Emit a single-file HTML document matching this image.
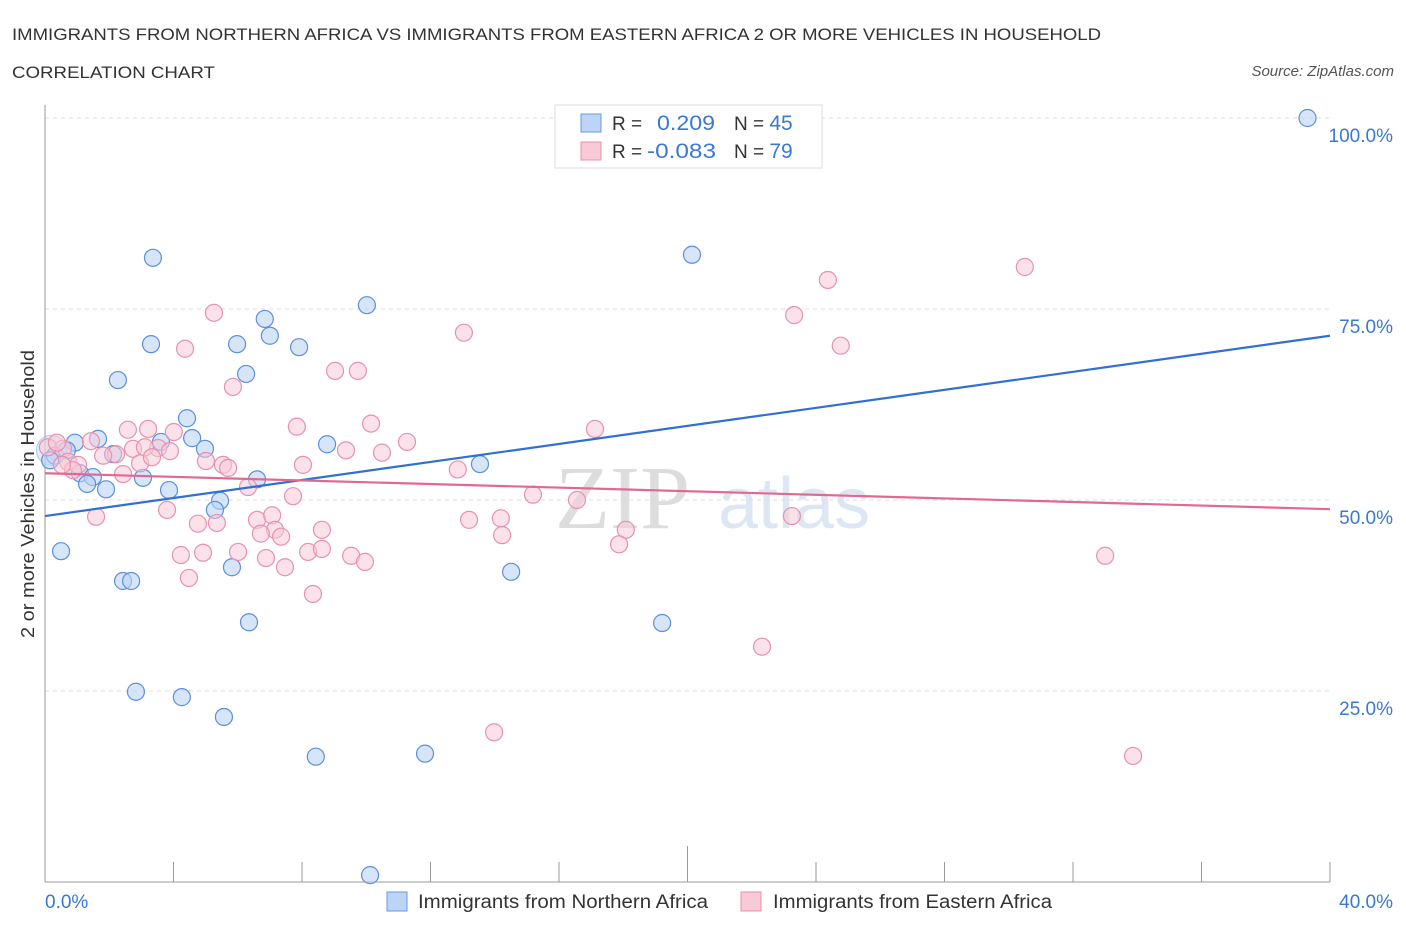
<!DOCTYPE html>
<html><head><meta charset="utf-8"><style>
body{margin:0;background:#fff;font-family:"Liberation Sans",sans-serif}
</style></head><body>
<svg id="c" width="1406" height="930" xmlns="http://www.w3.org/2000/svg">
<text x="12" y="40" font-size="17" fill="#333" textLength="1089" lengthAdjust="spacingAndGlyphs">IMMIGRANTS FROM NORTHERN AFRICA VS IMMIGRANTS FROM EASTERN AFRICA 2 OR MORE VEHICLES IN HOUSEHOLD</text>
<text x="12" y="78" font-size="17" fill="#333" textLength="203" lengthAdjust="spacingAndGlyphs">CORRELATION CHART</text>
<text x="1394" y="76" font-size="15" fill="#555" font-style="italic" text-anchor="end">Source: ZipAtlas.com</text>
<text x="555" y="528" font-size="90" fill="#ddd" font-family="Liberation Serif">ZIP</text>
<text x="718" y="528" font-size="72" fill="#dde6f3">atlas</text>
<g id="grid"></g><g id="pts"></g><g id="lines"></g>
<text transform="translate(34,494) rotate(-90)" font-size="18" fill="#333" text-anchor="middle" textLength="288" lengthAdjust="spacingAndGlyphs">2 or more Vehicles in Household</text>
<text x="45" y="908" font-size="19" fill="#3a78d4">0.0%</text>
<text x="1393" y="908" font-size="19" fill="#3a78d4" text-anchor="end">40.0%</text>
<g>
<rect x="555" y="105" width="267" height="63" fill="#fff" stroke="#ddd"/>
<rect x="581" y="114" width="20" height="18" fill="#bcd4f5" stroke="#6a9ae0"/>
<rect x="581" y="142" width="20" height="18" fill="#f8c9d7" stroke="#e891ae"/>
<text x="612" y="130" font-size="19" fill="#333">R =</text>
<text x="657" y="130" font-size="21" fill="#3a78d4" textLength="58" lengthAdjust="spacingAndGlyphs">0.209</text>
<text x="734" y="130" font-size="19" fill="#333">N = <tspan fill="#3a78d4" font-size="21">45</tspan></text>
<text x="612" y="158" font-size="19" fill="#333">R =</text>
<text x="647" y="158" font-size="21" fill="#3a78d4" textLength="69" lengthAdjust="spacingAndGlyphs">-0.083</text>
<text x="734" y="158" font-size="19" fill="#333">N = <tspan fill="#3a78d4" font-size="21">79</tspan></text>
</g>
<g>
<rect x="387" y="892" width="20" height="19" fill="#bcd4f5" stroke="#6a9ae0"/>
<text x="418" y="908" font-size="19" fill="#333" textLength="290" lengthAdjust="spacingAndGlyphs">Immigrants from Northern Africa</text>
<rect x="741" y="892" width="20" height="19" fill="#f8c9d7" stroke="#e891ae"/>
<text x="773" y="908" font-size="19" fill="#333" textLength="279" lengthAdjust="spacingAndGlyphs">Immigrants from Eastern Africa</text>
</g>
</svg>
<script>
const yTicks=[25,50,75,100];
const yTickLabels=["25.0%","50.0%","75.0%","100.0%"];
const xTicks=[0,4,8,12,16,20,24,28,32,36,40];
const blueX=[39.3,3.36,20.14,10.02,6.84,7.0,3.3,5.98,7.91,2.27,6.26,4.42,4.58,4.98,3.61,1.65,0.93,2.12,0.31,0.16,0.68,1.09,1.49,3.05,6.6,8.78,13.54,1.31,1.9,3.86,5.45,5.29,0.5,5.82,2.43,2.68,6.35,19.21,14.51,2.83,4.26,5.57,8.43,11.83,10.12];
const blueY=[100,81.7,82.1,75.5,73.7,71.5,70.4,70.4,70.0,65.7,66.5,60.7,58.1,56.7,57.6,58.0,57.5,56.0,55.8,55.2,56.5,53.5,53.0,52.9,52.7,57.3,54.7,52.1,51.4,51.3,49.9,48.7,43.3,41.2,39.4,39.4,34.0,33.9,40.6,24.9,24.2,21.6,16.4,16.8,0.9];
const pinkX=[30.5,24.37,5.26,23.32,13.04,24.77,4.36,9.03,9.74,5.85,10.15,7.84,17.12,2.58,3.21,4.01,3.52,3.89,11.27,1.43,9.37,10.49,2.74,3.11,2.21,1.81,0.56,0.09,0.37,0.72,1.03,2.96,3.33,5.01,5.54,5.7,8.03,12.85,0.87,0.53,2.43,6.32,15.19,16.56,7.72,3.8,1.59,4.76,5.35,6.6,7.07,7.16,7.35,6.72,8.62,13.2,14.19,14.23,23.25,18.08,17.87,4.23,4.92,6.01,8.19,8.62,9.53,9.96,6.88,7.47,4.48,8.34,33.0,22.32,13.98,33.87];
const pinkY=[80.5,78.8,74.5,74.2,71.9,70.2,69.8,66.9,66.9,64.8,60.0,59.6,59.3,59.2,59.3,58.9,56.8,56.4,57.6,57.7,56.5,56.2,56.7,56.9,56.0,55.8,56.7,56.9,57.5,55.0,54.6,54.8,55.6,55.1,54.6,54.2,54.6,54.0,53.9,54.6,53.4,51.7,50.7,50.0,50.5,48.7,47.8,46.9,47.0,47.4,48.0,46.1,45.2,45.6,46.1,47.4,47.6,45.4,47.9,46.1,44.2,42.8,43.1,43.2,43.2,43.6,42.7,41.9,42.4,41.2,39.8,37.7,42.7,30.8,19.6,16.5];
const blueTrend=[47.9,71.5];
const pinkTrend=[53.5,48.8];
const X=v=>45+v/40*1285, Y=v=>882-v/100*764;
const NS="http://www.w3.org/2000/svg";
function mk(t,a,p){const e=document.createElementNS(NS,t);for(const k in a)e.setAttribute(k,a[k]);p.appendChild(e);return e;}
const g=document.getElementById('grid');
yTicks.forEach((v,i)=>{
 const l=mk('line',{x1:45,x2:1330,y1:Y(v),y2:Y(v),stroke:'#ddd','stroke-dasharray':'4,4'},g);
 
 
 const t=mk('text',{x:1393,y:Y(v)+24,'font-size':19,fill:'#3a78d4','text-anchor':'end'},g);
 t.textContent=yTickLabels[i];
 
 
});
const ax=mk('line',{x1:45,x2:45,y1:105,y2:882,stroke:'#999'},g);


const bx=mk('line',{x1:45,x2:1330,y1:882,y2:882,stroke:'#999'},g);


xTicks.forEach(v=>{
 const l=mk('line',{x1:X(v),x2:X(v),y1:v==20?846:862,y2:882,stroke:'#999'},g);
 
 
});
const p=document.getElementById('pts');
function big(x,y,c,s){const e=mk('circle',{cx:X(x),cy:Y(y),r:15,fill:c,'fill-opacity':0.4,stroke:s,'stroke-opacity':0.5},p);
 
 }
big(0.2,56.5,'#bcd4f5','#6a9ae0');
blueX.forEach((x,i)=>{const e=mk('circle',{cx:X(x),cy:Y(blueY[i]),r:8.5,fill:'#bcd4f5','fill-opacity':0.6,stroke:'#5b8fdc','stroke-width':1.2},p);
 
 });
pinkX.forEach((x,i)=>{const e=mk('circle',{cx:X(x),cy:Y(pinkY[i]),r:8.5,fill:'#f8c9d7','fill-opacity':0.55,stroke:'#e891ae','stroke-width':1.2},p);
 
 });
const L=document.getElementById('lines');
const b=mk('line',{x1:X(0),y1:Y(blueTrend[0]),x2:X(40),y2:Y(blueTrend[1]),stroke:'#2f6fd6','stroke-width':2.2},L);


const pk=mk('line',{x1:X(0),y1:Y(pinkTrend[0]),x2:X(40),y2:Y(pinkTrend[1]),stroke:'#e2688f','stroke-width':2.2},L);


</script>
</body></html>
